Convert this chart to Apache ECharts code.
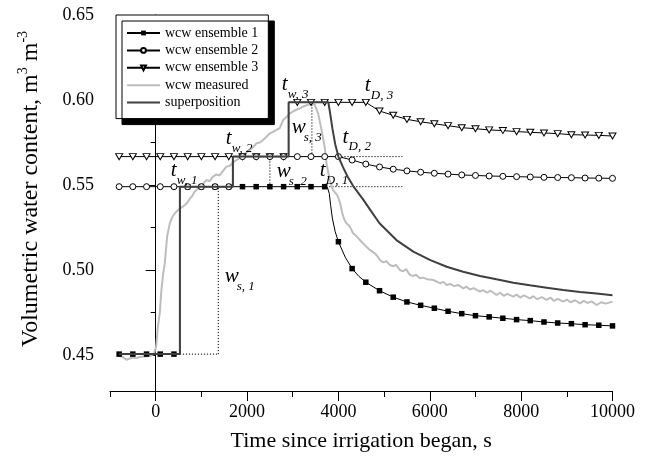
<!DOCTYPE html>
<html><head><meta charset="utf-8">
<script src="https://cdn.jsdelivr.net/npm/echarts@6/dist/echarts.min.js"></script>
<style>html,body{margin:0;padding:0;background:#fff}#c{width:650px;height:460px}</style>
</head><body><div id="c"></div>
<script>
// ---------- data ----------
const seriesNames = ['wcw ensemble 1', 'wcw ensemble 2', 'wcw ensemble 3', 'wcw measured', 'superposition'];
const xTickMajor = [0, 2000, 4000, 6000, 8000, 10000];
const xTickMinor = [-1000, 1000, 3000, 5000, 7000, 9000];
const yTickMajor = [0.45, 0.50, 0.55, 0.60, 0.65];
const yTickMinor = [0.475, 0.525, 0.575, 0.625];

const e1Time = [-800,-500,-200,100,400,530,530,700,1000,1300,1600,1900,2200,2500,2800,3100,3400,3700,3760,3800,3830,3870,3930,4000,4150,4300,4450,4600,4900,5200,5500,5800,6100,6400,6700,7000,7300,7600,7900,8200,8500,8800,9100,9400,9700,10000];
const e1Value = [0.4505,0.4505,0.4505,0.4505,0.4505,0.4505,0.549,0.549,0.549,0.549,0.549,0.549,0.549,0.549,0.549,0.549,0.549,0.549,0.5485,0.545,0.538,0.530,0.5225,0.5166,0.5075,0.5008,0.4962,0.4928,0.4878,0.4840,0.4812,0.4792,0.4775,0.4757,0.4743,0.4731,0.4724,0.4716,0.4708,0.4702,0.4694,0.4688,0.4684,0.4678,0.4675,0.4671];

const e2Time = [-800,-500,-200,100,400,700,1000,1300,1600,1690,1690,1900,2200,2500,2800,3100,3400,3700,4000,4300,4600,4900,5200,5500,5800,6100,6400,6700,7000,7300,7600,7900,8200,8500,8800,9100,9400,9700,10000];
const e2Value = [0.549,0.549,0.549,0.549,0.549,0.549,0.549,0.549,0.549,0.549,0.5667,0.5667,0.5667,0.5667,0.5667,0.5667,0.5667,0.5667,0.5667,0.5647,0.5623,0.5606,0.5593,0.5583,0.5575,0.5569,0.5564,0.5559,0.5556,0.5553,0.5551,0.5549,0.5547,0.5545,0.5544,0.5543,0.5541,0.5540,0.5539];

const e3Time = [-800,-500,-200,100,400,700,1000,1300,1600,1900,2200,2500,2800,2910,2910,3100,3400,3700,4000,4300,4600,4900,5200,5500,5800,6100,6400,6700,7000,7300,7600,7900,8200,8500,8800,9100,9400,9700,10000];
const e3Value = [0.5667,0.5667,0.5667,0.5667,0.5667,0.5667,0.5667,0.5667,0.5667,0.5667,0.5667,0.5667,0.5667,0.5667,0.5986,0.5986,0.5986,0.5986,0.5986,0.5986,0.5986,0.5935,0.5910,0.5886,0.5872,0.5860,0.5849,0.5837,0.5831,0.5824,0.5820,0.5814,0.5810,0.5806,0.5802,0.5796,0.5794,0.5792,0.5788];

const mTime = [-800,-720,-640,-580,-500,-420,-350,-250,-130,-40,10,50,90,125,160,200,250,310,360,420,480,530,590,640,700,750,800,850,900,960,1030,1110,1180,1255,1330,1400,1470,1550,1620,1700,1770,1840,1910,1980,2060,2130,2206,2280,2350,2420,2500,2570,2644,2716,2790,2860,2935,3040,3154,3260,3373,3430,3483,3555,3630,3700,3740,3810,3880,3960,3990,4040,4080,4130,4178,4250,4322,4400,4506,4600,4688,4720,4797,4850,4907,4980,5050,5126,5200,5260,5345,5420,5480,5564,5640,5700,5783,5860,5950,6075,6150,6221,6300,6368,6450,6530,6620,6732,6800,6880,6960,7097,7170,7250,7330,7463,7540,7620,7700,7827,7900,7980,8060,8193,8270,8350,8450,8559,8640,8720,8800,8922,9000,9080,9180,9288,9370,9450,9540,9654,9750,9850,9930,10000];
const mValue = [0.4497,0.4488,0.4472,0.4478,0.4485,0.4482,0.4488,0.4491,0.4494,0.4505,0.455,0.467,0.4747,0.488,0.497,0.504,0.5196,0.5275,0.531,0.5334,0.535,0.5363,0.5372,0.5382,0.5398,0.5421,0.5435,0.546,0.5472,0.549,0.5505,0.5529,0.5522,0.5549,0.5562,0.5556,0.5582,0.5608,0.5612,0.5635,0.5647,0.5658,0.5676,0.569,0.5706,0.5722,0.5745,0.575,0.5765,0.5782,0.5804,0.5812,0.5824,0.5835,0.5882,0.5898,0.5921,0.5938,0.5951,0.5965,0.5976,0.598,0.5971,0.5922,0.5824,0.5725,0.5628,0.5529,0.5471,0.5445,0.5431,0.539,0.534,0.5295,0.5275,0.5255,0.5216,0.5198,0.5166,0.514,0.5118,0.5128,0.5098,0.5082,0.5059,0.5045,0.5052,0.5029,0.5022,0.503,0.5000,0.4992,0.5005,0.4971,0.4965,0.4972,0.4951,0.4955,0.4945,0.4941,0.4932,0.4922,0.493,0.4912,0.4918,0.4905,0.4912,0.4892,0.4902,0.4885,0.4893,0.4872,0.4882,0.4866,0.4878,0.4853,0.4866,0.4848,0.486,0.4843,0.4855,0.4838,0.485,0.4833,0.4846,0.4828,0.484,0.4824,0.4838,0.4818,0.483,0.4814,0.4826,0.481,0.4822,0.4804,0.4818,0.4806,0.4815,0.4794,0.481,0.4802,0.4808,0.4814];

const sTime = [-800,530,530,1690,1690,2910,2910,3780,3820,3870,3930,4000,4100,4200,4320,4540,4700,4900,5270,5640,6000,6370,6730,7100,7460,7830,8190,8560,8920,9290,9650,10000];
const sValue = [0.4505,0.4505,0.549,0.549,0.5667,0.5667,0.5986,0.5986,0.592,0.583,0.574,0.5667,0.5605,0.555,0.5495,0.5415,0.5352,0.5275,0.5176,0.5108,0.5059,0.5019,0.4990,0.4965,0.4945,0.4925,0.4910,0.4896,0.4882,0.4871,0.4861,0.4851];

// marker grid of the ensemble curves
const markerStart = -800, markerStep = 300;

// dotted guide segments [t0, v0, t1, v1]
const guides = [
  [530, 0.4505, 1370, 0.4505],
  [1370, 0.4505, 1370, 0.549],
  [2500, 0.549, 2500, 0.5667],
  [3420, 0.5667, 3420, 0.5986],
  [3800, 0.549, 5400, 0.549],
  [4000, 0.5667, 5400, 0.5667]
];

// annotations: main letter, subscript, anchor (time, value) = left/baseline of main letter
const annMain = ['t','t','t','t','t','t','w','w','w'];
const annSub  = ['w, 1','w, 2','w, 3','D, 1','D, 2','D, 3','s, 1','s, 2','s, 3'];
const annTime = [329, 1533, 2760, 3593, 4090, 4578, 1512, 2651, 2979];
const annValue = [0.5547, 0.5735, 0.6053, 0.5547, 0.5744, 0.6047, 0.4924, 0.5541, 0.5800];

// ---------- chart ----------
const FONT = '"Liberation Serif", "Times New Roman", serif';
const chart = echarts.init(document.getElementById('c'), null, {renderer: 'canvas'});

function pairs(ts, vs, withMarkers) {
  return ts.map((t, i) => {
    const item = {value: [t, vs[i]]};
    if (withMarkers && ((t - markerStart) % markerStep !== 0)) item.symbol = 'none';
    return item;
  });
}

const triDown = 'path://M0,0 L10,0 L5,9 Z';

const series = [
  {name: seriesNames[3], type: 'line', data: pairs(mTime, mValue, false), symbol: 'none',
   lineStyle: {color: '#bdbdbd', width: 2}, itemStyle: {color: '#bdbdbd'}, z: 2},
  {name: seriesNames[2], type: 'line', data: pairs(e3Time, e3Value, true), symbol: triDown, symbolSize: [7, 6],
   lineStyle: {color: '#000', width: 1}, itemStyle: {color: '#fff', borderColor: '#000', borderWidth: 1}, z: 3},
  {name: seriesNames[0], type: 'line', data: pairs(e1Time, e1Value, true), symbol: 'rect', symbolSize: 5.5,
   lineStyle: {color: '#000', width: 1}, itemStyle: {color: '#000'}, z: 3},
  {name: seriesNames[1], type: 'line', data: pairs(e2Time, e2Value, true), symbol: 'circle', symbolSize: 6,
   lineStyle: {color: '#000', width: 1}, itemStyle: {color: '#fff', borderColor: '#000', borderWidth: 1}, z: 3},
  {name: seriesNames[4], type: 'line', data: pairs(sTime, sValue, false), symbol: 'none',
   lineStyle: {color: '#3f3f3f', width: 2}, itemStyle: {color: '#3f3f3f'}, z: 4}
];
guides.forEach((g) => {
  series.push({type: 'line', data: [[g[0], g[1]], [g[2], g[3]]], symbol: 'none', silent: true,
    lineStyle: {color: '#000', width: 1, type: [1.2, 1.8]}, z: 1});
});

const axisCommon = {
  axisLine: {show: true, lineStyle: {color: '#000', width: 1}},
  splitLine: {show: false}
};

const legendData = seriesNames.map((n, i) => (i >= 3 ? {name: n, itemStyle: {opacity: 0}} : {name: n}));

chart.setOption({
  animation: false,
  grid: {left: 110, right: 37.5, top: 15, bottom: 69, containLabel: false},
  xAxis: [
    Object.assign({}, axisCommon, {
      type: 'value', min: -1000, max: 10000,
      axisTick: {show: true, length: 10, lineStyle: {color: '#000'}, customValues: xTickMajor},
      axisLabel: {customValues: xTickMajor, color: '#000', fontFamily: FONT, fontSize: 18, margin: 12,
        formatter: (v) => String(v)},
      name: 'Time since irrigation began, s', nameLocation: 'middle', nameGap: 39,
      nameTextStyle: {color: '#000', fontFamily: FONT, fontSize: 22}
    }),
    {type: 'value', min: -1000, max: 10000, gridIndex: 0, position: 'bottom',
     axisLine: {show: false}, splitLine: {show: false}, axisLabel: {show: false},
     axisTick: {show: true, length: 6, lineStyle: {color: '#000'}, customValues: xTickMinor}}
  ],
  yAxis: [
    Object.assign({}, axisCommon, {
      type: 'value', min: 0.4288, max: 0.65,
      axisTick: {show: true, length: 10, lineStyle: {color: '#000'}, customValues: yTickMajor},
      axisLabel: {customValues: yTickMajor, color: '#000', fontFamily: FONT, fontSize: 18, margin: 16,
        formatter: (v) => v.toFixed(2)},
      name: 'Volumetric water content, m{sup|3} m{sup|-3}', nameLocation: 'middle', nameGap: 64,
      nameTextStyle: {color: '#000', fontFamily: FONT, fontSize: 24, lineHeight: 30, padding: [0, 0, 0, 28],
        rich: {sup: {fontFamily: FONT, fontSize: 14, lineHeight: 14, verticalAlign: 'top', color: '#000'}}}
    }),
    {type: 'value', min: 0.4288, max: 0.65, position: 'left',
     axisLine: {show: false}, splitLine: {show: false}, axisLabel: {show: false},
     axisTick: {show: true, length: 5, lineStyle: {color: '#000'}, customValues: yTickMinor}}
  ],
  legend: {
    data: legendData, orient: 'vertical', left: 116, top: 15, z: 10,
    padding: [11, 10, 9, 10], itemWidth: 33, itemHeight: 6, itemGap: 3.4,
    backgroundColor: '#fff', borderColor: '#000', borderWidth: 1,
    shadowColor: '#000', shadowBlur: 0, shadowOffsetX: 6, shadowOffsetY: 6,
    textStyle: {color: '#000', fontFamily: FONT, fontSize: 14, lineHeight: 14, width: 92, overflow: 'none'},
    selectedMode: false
  },
  series: series
});

// annotations (positions from data coordinates)
const annEls = [];
annMain.forEach((m, i) => {
  const p = chart.convertToPixel({gridIndex: 0}, [annTime[i], annValue[i]]);
  const subDx = m === 't' ? 6 : 12;
  annEls.push({type: 'text', id: 'am' + i, x: p[0], y: p[1] + 4, silent: true, z: 100,
    style: {text: m, font: 'italic 21px ' + FONT, fill: '#000', verticalAlign: 'bottom', align: 'left'}});
  annEls.push({type: 'text', id: 'as' + i, x: p[0] + subDx, y: p[1] + 10, silent: true, z: 100,
    style: {text: annSub[i], font: 'italic 13px ' + FONT, fill: '#000', verticalAlign: 'bottom', align: 'left'}});
});
chart.setOption({graphic: {elements: annEls}});
</script>
</body></html>
